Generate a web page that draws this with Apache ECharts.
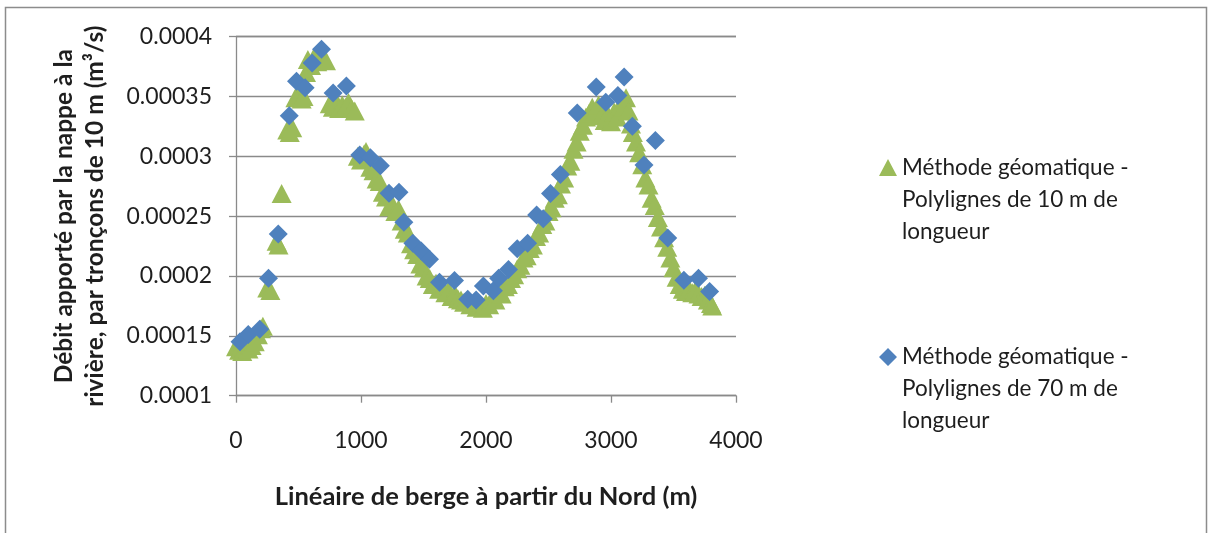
<!DOCTYPE html>
<html>
<head>
<meta charset="utf-8">
<script src="https://cdn.jsdelivr.net/npm/echarts@6/dist/echarts.min.js"></script>
<style>
html,body{margin:0;padding:0;background:#fff;}
#chart{width:1212px;height:533px;}
</style>
</head>
<body>
<div id="chart"></div>
<script>
// ---- Data ----
const seriesNames = [
  'Méthode géomatique -\nPolylignes de 10 m de\nlongueur',
  'Méthode géomatique -\nPolylignes de 70 m de\nlongueur'
];
const xTickLabels = ['0', '1000', '2000', '3000', '4000'];
const yTickLabels = ['0.0001', '0.00015', '0.0002', '0.00025', '0.0003', '0.00035', '0.0004'];
const xAxisTitle = 'Linéaire de berge à partir du Nord (m)';
const yAxisTitle = 'Débit apporté par la nappe à la\nrivière, par tronçons de 10 m (m³/s)';

// Series 1: 10 m polylines (green triangles)
const greenX = [0, 25, 50, 75, 100, 125, 150, 175, 200, 215,
  250, 275, 325, 340, 365,
  410, 430, 450, 475, 500, 525, 540,
  560, 575, 600, 625, 650, 675, 700, 720,
  750, 775, 800, 825, 850, 875, 900, 925, 950,
  975, 1000, 1025, 1040,
  1050, 1075, 1100, 1125, 1150, 1175, 1200, 1225, 1250, 1275,
  1300, 1325, 1350, 1375, 1400, 1425, 1450, 1475, 1500, 1525,
  1550, 1575, 1600, 1625, 1650, 1675, 1700, 1725, 1750, 1775,
  1800, 1825, 1850, 1875, 1900, 1925, 1950, 1975, 2000, 2025,
  2050, 2075, 2100, 2125, 2150, 2175, 2200, 2225, 2250, 2275,
  2300, 2325, 2350, 2375, 2400, 2425, 2450, 2475, 2500, 2525,
  2550, 2575, 2600, 2625, 2650, 2675, 2700, 2725, 2750, 2775,
  2800, 2825, 2850, 2875, 2900, 2925, 2950, 2975, 3000, 3025,
  3050, 3075, 3100, 3120, 3140, 3160, 3175, 3200, 3225, 3250,
  3275, 3300, 3325, 3350, 3375, 3400, 3425, 3450, 3475, 3500,
  3525, 3550, 3575, 3600, 3625, 3650, 3675, 3700, 3725, 3750,
  3775, 3800, 3810];
const greenY = [0.000141, 0.000138, 0.000137, 0.000140, 0.000139, 0.000142, 0.000145, 0.000151, 0.000156, 0.000158,
  0.000190, 0.000188, 0.000229, 0.000226, 0.000269,
  0.000322, 0.000320, 0.000324, 0.000349, 0.000352, 0.000348, 0.000350,
  0.000370, 0.000381, 0.000376, 0.000383, 0.000379, 0.000384, 0.000382, 0.000380,
  0.000344, 0.000341, 0.000346, 0.000340, 0.000343, 0.000341, 0.000345, 0.000340, 0.000338,
  0.000300, 0.000297, 0.000302, 0.000304,
  0.000298, 0.000291, 0.000288, 0.000281, 0.000279, 0.000270, 0.000266, 0.000258, 0.000260, 0.000254,
  0.000256, 0.000246, 0.000239, 0.000236, 0.000227, 0.000222, 0.000218, 0.000210, 0.000207, 0.000200,
  0.000198, 0.000193, 0.000194, 0.000189, 0.000190, 0.000186, 0.000188, 0.000183, 0.000185, 0.000181,
  0.000180, 0.000178, 0.000180, 0.000176, 0.000177, 0.000174, 0.000175, 0.000173, 0.000177, 0.000176,
  0.000181, 0.000180, 0.000186, 0.000185, 0.000191, 0.000193, 0.000198, 0.000201, 0.000206, 0.000209,
  0.000215, 0.000217, 0.000223, 0.000226, 0.000233, 0.000236, 0.000243, 0.000246, 0.000254, 0.000257,
  0.000265, 0.000268, 0.000277, 0.000282, 0.000292, 0.000296, 0.000306, 0.000312, 0.000321, 0.000326,
  0.000333, 0.000336, 0.000341, 0.000338, 0.000343, 0.000334, 0.000330, 0.000335, 0.000329, 0.000337,
  0.000333, 0.000343, 0.000341, 0.000349, 0.000338, 0.000327, 0.000320, 0.000312, 0.000303, 0.000293,
  0.000282, 0.000276, 0.000265, 0.000259, 0.000249, 0.000241, 0.000232, 0.000224, 0.000215, 0.000207,
  0.000199, 0.000193, 0.000189, 0.000187, 0.000189, 0.000186, 0.000188, 0.000185, 0.000183, 0.000184,
  0.000180, 0.000177, 0.000175];

// Series 2: 70 m polylines (blue diamonds)
const blueX = [32, 98, 190, 260, 338, 426, 484, 553, 609, 684,
  777, 883, 990, 1075, 1155, 1224, 1304, 1343, 1415, 1482,
  1548, 1628, 1748, 1854, 1921, 1979, 2059, 2101, 2180, 2250,
  2333, 2405, 2458, 2516, 2595, 2730, 2882, 2958, 3055, 3105,
  3171, 3264, 3355, 3454, 3583, 3700, 3789];
const blueY = [0.0001450, 0.0001512, 0.0001556, 0.0001982, 0.0002352, 0.0003340, 0.0003628, 0.0003574, 0.0003780, 0.0003896,
  0.0003530, 0.0003588, 0.0003012, 0.0002989, 0.0002922, 0.0002692, 0.0002700, 0.0002449, 0.0002274, 0.0002210,
  0.0002140, 0.0001948, 0.0001962, 0.0001806, 0.0001800, 0.0001917, 0.0001878, 0.0001982, 0.0002054, 0.0002228,
  0.0002273, 0.0002510, 0.0002479, 0.0002689, 0.0002848, 0.0003362, 0.0003580, 0.0003452, 0.0003509, 0.0003663,
  0.0003251, 0.0002928, 0.0003133, 0.0002318, 0.0001965, 0.0001982, 0.0001870];

// ---- Chart ----
const FONT = 'Lato';
const TXT = '#1e1e1e';
const GRID_COLOR = '#8a8a8a';

// legend icons: marker aligned with the first text line of a 3-line label
const LEGEND_TRI = 'path://M9,7L18,24L0,24Z M0,0L0.01,0 M0,96L0.01,96';
const LEGEND_DIA = 'path://M9,7L18,16L9,25L0,16Z M0,0L0.01,0 M0,96L0.01,96';

const greenData = greenX.map((x, i) => [x, greenY[i]]);
const blueData = blueX.map((x, i) => [x, blueY[i]]);

const yMin = Number(yTickLabels[0]);
const yMax = Number(yTickLabels[yTickLabels.length - 1]);
const yStep = Number(yTickLabels[1]) - Number(yTickLabels[0]);

const chart = echarts.init(document.getElementById('chart'), null, {renderer: 'canvas'});
chart.setOption({
  animation: false,
  backgroundColor: '#ffffff',
  textStyle: {fontFamily: FONT, color: TXT},
  graphic: [{
    type: 'rect',
    shape: {x: 5.5, y: 7.5, width: 1201, height: 600},
    style: {fill: 'none', stroke: '#8c8c8c', lineWidth: 1.5},
    silent: true,
    z: -1
  }],
  grid: {left: 236, right: 476, top: 36.7, bottom: 137.3, containLabel: false},
  legend: {
    orient: 'vertical',
    left: 879,
    top: 152,
    padding: 0,
    itemGap: 93,
    itemWidth: 18,
    itemHeight: 96,
    symbolKeepAspect: false,
    selectedMode: false,
    textStyle: {fontFamily: FONT, fontSize: 22.5, color: TXT, lineHeight: 32},
    data: [
      {name: seriesNames[0], icon: LEGEND_TRI},
      {name: seriesNames[1], icon: LEGEND_DIA}
    ]
  },
  xAxis: {
    type: 'value',
    min: Number(xTickLabels[0]),
    max: Number(xTickLabels[xTickLabels.length - 1]),
    interval: Number(xTickLabels[1]) - Number(xTickLabels[0]),
    name: xAxisTitle,
    nameLocation: 'middle',
    nameGap: 88,
    nameMoveOverlap: false,
    nameTextStyle: {fontFamily: FONT, fontSize: 25.5, fontWeight: 'bold', color: TXT},
    axisLine: {show: true, lineStyle: {color: GRID_COLOR, width: 1.3}},
    axisTick: {show: true, length: 7, lineStyle: {color: GRID_COLOR, width: 1.3}},
    splitLine: {show: false},
    axisLabel: {
      fontFamily: FONT, fontSize: 23, color: TXT, margin: 33,
      formatter: (v) => xTickLabels[xTickLabels.indexOf(String(Math.round(v)))] || String(Math.round(v))
    }
  },
  yAxis: {
    type: 'value',
    min: yMin,
    max: yMax,
    interval: yStep,
    name: yAxisTitle,
    nameLocation: 'middle',
    nameRotate: 90,
    nameGap: 125,
    nameMoveOverlap: false,
    nameTextStyle: {fontFamily: FONT, fontSize: 24.5, fontWeight: 'bold', color: TXT, lineHeight: 31, align: 'center'},
    axisLine: {show: true, lineStyle: {color: GRID_COLOR, width: 1.3}},
    axisTick: {show: true, length: 7, lineStyle: {color: GRID_COLOR, width: 1.3}},
    splitLine: {show: true, lineStyle: {color: GRID_COLOR, width: 1.3}},
    axisLabel: {
      fontFamily: FONT, fontSize: 23, color: TXT, margin: 24,
      formatter: (v) => yTickLabels[Math.round((v - yMin) / yStep)]
    }
  },
  series: [
    {
      name: seriesNames[0],
      type: 'scatter',
      symbol: 'triangle',
      symbolSize: [20, 19],
      itemStyle: {color: '#9BBB59', opacity: 1},
      data: greenData,
      z: 2
    },
    {
      name: seriesNames[1],
      type: 'scatter',
      symbol: 'diamond',
      symbolSize: [19, 19],
      itemStyle: {color: '#4F81BD', opacity: 1},
      data: blueData,
      z: 3
    }
  ]
});
</script>
</body>
</html>
